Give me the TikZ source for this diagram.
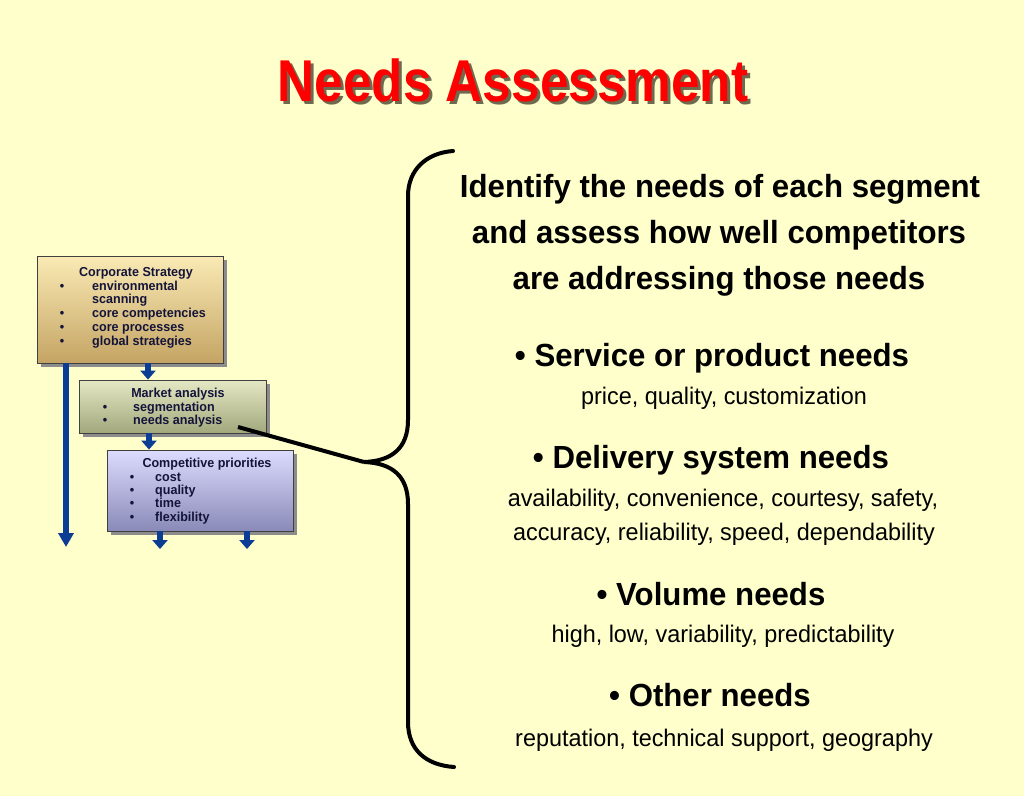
\documentclass[tikz,border=0pt]{standalone}
\usepackage{fontspec}
\setmainfont{Liberation Sans}
\newfontfamily\titlefont{Liberation Sans}[FakeStretch=0.87]
\newfontfamily\bodyfont{Liberation Sans}[FakeStretch=0.975]
\newfontfamily\boxfont{Liberation Sans}[FakeStretch=0.965]
\usetikzlibrary{arrows.meta,shadows}
\definecolor{bg}{HTML}{FFFFCC}
\definecolor{titlered}{HTML}{FF0000}
\definecolor{titleshade}{HTML}{6E6A50}
\definecolor{arrowblue}{HTML}{0B3D94}
\definecolor{boxtext}{HTML}{14143A}
\definecolor{tanlight}{HTML}{FAEAB4}
\definecolor{tandark}{HTML}{C4A464}
\definecolor{greenlight}{HTML}{E4E8C4}
\definecolor{greendark}{HTML}{A2A87C}
\definecolor{lavlight}{HTML}{DCDCFF}
\definecolor{lavdark}{HTML}{8A8AB8}
\tikzset{
  titlestyle/.style={font=\titlefont\bfseries\fontsize{59}{70}\selectfont, anchor=base, inner sep=0},
  boxbase/.style={draw=black!75, line width=0.8pt, inner sep=0, shading angle=45,
    drop shadow={shadow xshift=4pt, shadow yshift=-4pt, fill=black!45, opacity=1}},
  boxtxt/.style={font=\boxfont\bfseries\fontsize{13}{15}\selectfont, text=boxtext, inner sep=0},
  bluearrow/.style={draw=arrowblue, line width=5.5pt, -{Triangle[width=15pt,length=9pt]}},
  longarrow/.style={draw=arrowblue, line width=5.5pt, -{Triangle[width=15pt,length=14pt]}},
  braceline/.style={draw=black, line width=4pt, line cap=round},
  headtxt/.style={font=\bodyfont\bfseries\fontsize{32}{38}\selectfont, anchor=base, inner sep=0},
  subtxt/.style={font=\bodyfont\fontsize{24}{28}\selectfont, anchor=base, inner sep=0},
}
\begin{document}
\begin{tikzpicture}[x=1pt,y=-1pt]
\fill[bg] (0,0) rectangle (1024,796);
\useasboundingbox (0,0) rectangle (1024,796);

% title with its drop shadow
\node[titlestyle] (title) at (513,101)
  {\makebox[0pt][l]{\hspace{3pt}\raisebox{-3pt}{\color{titleshade}Needs Assessment}}\color{titlered}Needs Assessment};

% boxes
\node[boxbase, top color=tanlight, bottom color=tandark, minimum width=186pt, minimum height=107pt] (box1) at (130,309.5) {};
\node[boxbase, top color=greenlight, bottom color=greendark, minimum width=187pt, minimum height=53pt] (box2) at (172.5,406.5) {};
\node[boxbase, top color=lavlight, bottom color=lavdark, minimum width=186pt, minimum height=81pt] (box3) at (200,490.5) {};

% box 1 text
\node[boxtxt, anchor=base] (cs) at (136,276) {Corporate Strategy};
\node[boxtxt, anchor=base] (csb1) at (62,290) {•};
\node[boxtxt, anchor=base west] (csi1) at (92,290) {environmental};
\node[boxtxt, anchor=base west] (csi1b) at (92,303) {scanning};
\node[boxtxt, anchor=base] (csb2) at (62,317) {•};
\node[boxtxt, anchor=base west] (csi2) at (92,317) {core competencies};
\node[boxtxt, anchor=base] (csb3) at (62,331) {•};
\node[boxtxt, anchor=base west] (csi3) at (92,331) {core processes};
\node[boxtxt, anchor=base] (csb4) at (62,345) {•};
\node[boxtxt, anchor=base west] (csi4) at (92,345) {global strategies};

% box 2 text
\node[boxtxt, anchor=base] (ma) at (178,397) {Market analysis};
\node[boxtxt, anchor=base] (mab1) at (105,411) {•};
\node[boxtxt, anchor=base west] (mai1) at (133,411) {segmentation};
\node[boxtxt, anchor=base] (mab2) at (105,424) {•};
\node[boxtxt, anchor=base west] (mai2) at (133,424) {needs analysis};

% box 3 text
\node[boxtxt, anchor=base] (cp) at (207,467) {Competitive priorities};
\node[boxtxt, anchor=base] (cpb1) at (132,481) {•};
\node[boxtxt, anchor=base west] (cpi1) at (155,481) {cost};
\node[boxtxt, anchor=base] (cpb2) at (132,494) {•};
\node[boxtxt, anchor=base west] (cpi2) at (155,494) {quality};
\node[boxtxt, anchor=base] (cpb3) at (132,507) {•};
\node[boxtxt, anchor=base west] (cpi3) at (155,507) {time};
\node[boxtxt, anchor=base] (cpb4) at (132,521) {•};
\node[boxtxt, anchor=base west] (cpi4) at (155,521) {flexibility};

% blue arrows
\coordinate (longend) at (66,547);
\coordinate (m1) at (148,0);
\coordinate (m2) at (149,0);
\coordinate (end1) at (160,549);
\coordinate (end2) at (247,549);
\draw[longarrow] (box1.south -| longend) -- (longend);
\draw[bluearrow] (box1.south -| m1) -- (box2.north -| m1);
\draw[bluearrow] (box2.south -| m2) -- (box3.north -| m2);
\draw[bluearrow] (box3.south -| end1) -- (end1);
\draw[bluearrow] (box3.south -| end2) -- (end2);

% brace
\coordinate (btop) at (453,151);
\coordinate (tip) at (364,462);
\coordinate (bbot) at (454,767);
\draw[braceline] (btop) .. controls (426,153) and (408,170) .. (408,196) -- (408,420)
  .. controls (408,448) and (392,461) .. (tip)
  .. controls (392,463) and (408,476) .. (408,504) -- (408,722)
  .. controls (408,750) and (426,765) .. (bbot);

% connector
\coordinate (cstart) at (238,427);
\draw[line width=4pt] (cstart) -- (tip);

% right text
\node[headtxt] (l1) at (720,197) {Identify the needs of each segment};
\node[headtxt] (l2) at (719,243) {and assess how well competitors};
\node[headtxt] (l3) at (719,289) {are addressing those needs};

\node[headtxt] (h1) at (712,366) {• Service or product needs};
\node[subtxt] (s1) at (724,404) {price, quality, customization};
\node[headtxt] (h2) at (711,468) {• Delivery system needs};
\node[subtxt] (s2a) at (723,506) {availability, convenience, courtesy, safety,};
\node[subtxt] (s2b) at (724,540) {accuracy, reliability, speed, dependability};
\node[headtxt] (h3) at (711,605) {• Volume needs};
\node[subtxt] (s3) at (723,642) {high, low, variability, predictability};
\node[headtxt] (h4) at (710,706) {• Other needs};
\node[subtxt] (s4) at (724,746) {reputation, technical support, geography};
\end{tikzpicture}
\end{document}
